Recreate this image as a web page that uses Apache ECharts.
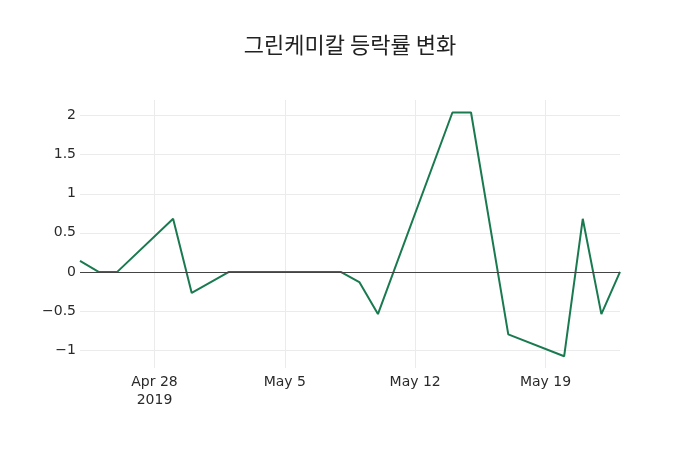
<!DOCTYPE html>
<html>
<head>
<meta charset="utf-8">
<script src="https://cdn.jsdelivr.net/npm/echarts@6/dist/echarts.min.js"></script>
<style>
  html, body { margin: 0; padding: 0; background: #fff; }
  #chart { width: 700px; height: 450px; }
</style>
</head>
<body>
<div id="chart"></div>
<script>
// 그린케미칼 daily change (%)
var dates = ['2019-04-24', '2019-04-25', '2019-04-26', '2019-04-29', '2019-04-30',
             '2019-05-02', '2019-05-03', '2019-05-07', '2019-05-08', '2019-05-09',
             '2019-05-10', '2019-05-14', '2019-05-15', '2019-05-17', '2019-05-20',
             '2019-05-21', '2019-05-22', '2019-05-23'];
var changes = [0.14, 0, 0, 0.68, -0.27,
               0, 0, 0, 0, -0.13,
               -0.54, 2.04, 2.04, -0.8, -1.08,
               0.68, -0.54, 0];
var xTickDates = ['2019-04-28', '2019-05-05', '2019-05-12', '2019-05-19'];
var xTickLabels = ['Apr 28\n2019', 'May 5', 'May 12', 'May 19'];
var yTicks = [-1, -0.5, 0, 0.5, 1, 1.5, 2];

function toTs(s) {
  var p = s.split('-').map(Number);
  return Date.UTC(p[0], p[1] - 1, p[2]);
}

var xTickTs = xTickDates.map(toTs);
var labelByTs = {};
xTickTs.forEach(function (t, i) { labelByTs[t] = xTickLabels[i]; });

var chart = echarts.init(document.getElementById('chart'));

var option = {
  animation: false,
  title: {
    text: '그린케미칼 등락률 변화',
    left: 'center',
    top: 29,
    textStyle: {
      fontFamily: 'Noto Sans CJK KR',
      fontSize: 22,
      fontWeight: 'normal',
      color: '#222'
    }
  },
  grid: { left: 80, right: 80, top: 100, bottom: 82 },
  xAxis: {
    type: 'value',
    min: toTs(dates[0]),
    max: toTs(dates[dates.length - 1]),
    axisLine: { show: false },
    axisTick: { show: false, customValues: xTickTs },
    splitLine: { show: true, lineStyle: { color: '#ebebeb', width: 1 } },
    axisLabel: {
      customValues: xTickTs,
      formatter: function (v) { return labelByTs[v] || ''; },
      fontFamily: 'DejaVu Sans',
      fontSize: 14,
      color: '#2a2a2a',
      lineHeight: 18,
      margin: 5
    }
  },
  yAxis: {
    type: 'value',
    min: -1.23,
    max: 2.2,
    axisLine: { show: false },
    axisTick: { show: false, customValues: yTicks },
    splitLine: { show: true, lineStyle: { color: '#ebebeb', width: 1 } },
    axisLabel: {
      customValues: yTicks,
      formatter: function (v) { return String(v).replace('-', '\u2212'); },
      fontFamily: 'DejaVu Sans',
      fontSize: 14,
      color: '#2a2a2a',
      margin: 4
    }
  },
  series: [{
    type: 'line',
    data: dates.map(function (d, i) { return [toTs(d), changes[i]]; }),
    showSymbol: false,
    lineStyle: { color: '#1a7a4f', width: 2 },
    itemStyle: { color: '#1a7a4f' },
    markLine: {
      silent: true,
      symbol: 'none',
      label: { show: false },
      lineStyle: { color: '#444', width: 1, type: 'solid' },
      data: [{ yAxis: 0 }]
    },
    z: 3
  }]
};

chart.setOption(option);
</script>
</body>
</html>
